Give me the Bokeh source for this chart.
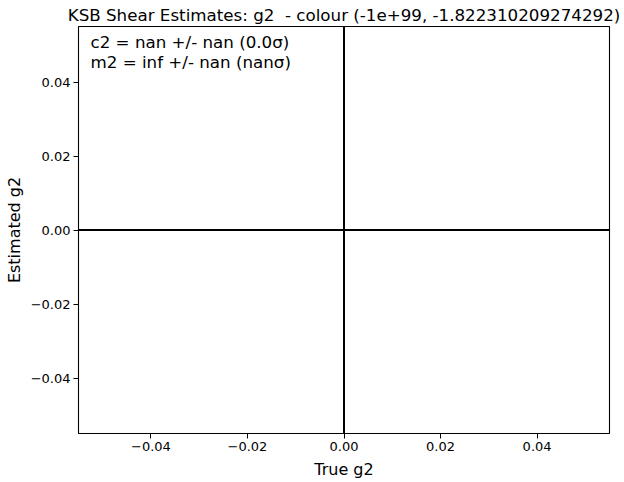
from bokeh.plotting import figure
from bokeh.models import Span, Label, FixedTicker, CustomJSTickFormatter, Range1d
from bokeh.embed import file_html
from bokeh.resources import INLINE

# Data / text
title_text = "KSB Shear Estimates: g2 \u00a0- colour (-1e+99, -1.822310209274292)"
x_label = "True g2"
y_label = "Estimated g2"
x_limits = [-0.055, 0.055]
y_limits = [-0.055, 0.055]
x_ticks = [-0.04, -0.02, 0.0, 0.02, 0.04]
y_ticks = [-0.04, -0.02, 0.0, 0.02, 0.04]
ref_lines = [0.0]
annotation_lines = ["c2 = nan +/- nan (0.0\u03c3)", "m2 = inf +/- nan (nan\u03c3)"]

FONT = "DejaVu Sans"

p = figure(width=624, height=482, output_backend="svg", toolbar_location=None,
           x_range=Range1d(*x_limits), y_range=Range1d(*y_limits),
           min_border_left=78, min_border_right=15, min_border_top=0, min_border_bottom=49)

p.title.text = title_text
p.title.align = "center"
p.title.text_font = FONT
p.title.text_font_size = "16.7px"
p.title.text_font_style = "normal"
p.title.text_color = "black"
p.title.offset = 0
p.title.standoff = 4

p.xgrid.visible = False
p.ygrid.visible = False
p.outline_line_color = "black"
p.outline_line_width = 1.1
p.background_fill_color = "white"
p.border_fill_color = "white"

fmt = CustomJSTickFormatter(code="return tick.toFixed(2).replace('-', '\\u2212');")
for ax, ticks, lab in ((p.xaxis[0], x_ticks, x_label), (p.yaxis[0], y_ticks, y_label)):
    ax.ticker = FixedTicker(ticks=ticks)
    ax.formatter = fmt
    ax.axis_label = lab
    ax.axis_label_text_font = FONT
    ax.axis_label_text_font_size = "16px"
    ax.axis_label_text_font_style = "normal"
    ax.axis_label_text_color = "black"
    ax.axis_label_standoff = 4
    ax.major_label_text_font = FONT
    ax.major_label_text_font_size = "13px"
    ax.major_label_text_color = "black"
    ax.major_label_standoff = 3
    ax.major_tick_out = 5
    ax.major_tick_in = 0
    ax.minor_tick_out = 0
    ax.minor_tick_in = 0
    ax.axis_line_color = None
    ax.major_tick_line_color = "black"
    ax.major_tick_line_width = 1

p.xaxis[0].axis_label_standoff = 6

for v in ref_lines:
    p.add_layout(Span(location=v, dimension="width", line_color="black", line_width=2))
    p.add_layout(Span(location=v, dimension="height", line_color="black", line_width=2))

p.add_layout(Label(x=x_limits[0], y=y_limits[1], x_offset=12, y_offset=-5,
                   text="\n".join(annotation_lines), text_baseline="top",
                   text_font=FONT, text_font_size="16.7px", text_color="black",
                   text_line_height=1.0))

open("out.html", "w").write(file_html(p, INLINE))
